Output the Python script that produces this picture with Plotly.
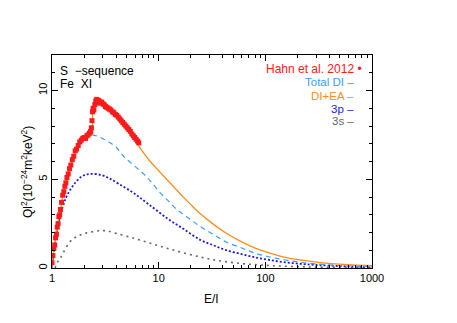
import plotly.graph_objects as go

# ---- data ----
hahn_x = [1.00, 1.02, 1.04, 1.06, 1.08, 1.10, 1.12, 1.14, 1.16, 1.18, 1.20, 1.23, 1.26, 1.29,
          1.32, 1.35, 1.38, 1.42, 1.46, 1.50, 1.55, 1.60, 1.65, 1.70, 1.76, 1.82, 1.88, 1.94,
          2.00, 2.06, 2.12, 2.18, 2.24, 2.30, 2.34, 2.37, 2.40, 2.43, 2.47, 2.52, 2.57, 2.62,
          2.67, 2.72, 2.78, 2.85, 2.92, 3.00, 3.08, 3.17, 3.26, 3.36, 3.46, 3.57, 3.68, 3.80,
          3.92, 4.05, 4.18, 4.32, 4.46, 4.61, 4.76, 4.92, 5.08, 5.25, 5.42, 5.60, 5.78, 5.96,
          6.15, 6.35, 6.50]
hahn_y = [0.3, 0.7, 1.1, 1.3, 1.7, 1.9, 2.3, 2.5, 2.9, 3.0, 3.3, 3.7, 4.1, 4.3,
          4.6, 4.8, 5.1, 5.3, 5.6, 5.8, 6.1, 6.3, 6.6, 6.7, 6.9, 7.1, 7.2, 7.3,
          7.35, 7.3, 7.45, 7.5, 7.6, 7.7, 7.9, 8.3, 8.8, 9.0, 8.9, 9.2, 9.4, 9.5,
          9.3, 9.45, 9.4, 9.3, 9.35, 9.25, 9.2, 9.1, 9.05, 9.0, 8.95, 8.9, 8.8, 8.75,
          8.65, 8.6, 8.5, 8.4, 8.3, 8.2, 8.1, 8.0, 7.9, 7.8, 7.7, 7.55, 7.45, 7.35,
          7.25, 7.15, 7.05]

di_x = [1.00, 1.03, 1.07, 1.10, 1.15, 1.20, 1.28, 1.33, 1.48, 1.65, 1.84, 2.05, 2.3, 2.6, 2.84,
        3.4, 4.0, 4.69, 5.8, 7.23, 8.5, 10.4, 12.5, 14.9, 19, 24.6, 32, 42, 60, 80.5, 110,
        154, 220, 300, 450, 650, 1000]
di_y = [0.0, 0.9, 1.5, 2.1, 2.7, 3.2, 4.3, 4.65, 5.65, 6.55, 7.1, 7.35, 7.5, 7.45, 7.36,
        7.1, 6.8, 6.29, 5.8, 5.3, 4.85, 4.22, 3.74, 3.28, 2.82, 2.33, 1.92, 1.49, 1.13, 0.83, 0.62,
        0.45, 0.31, 0.23, 0.16, 0.11, 0.08]

# DI+EA: identical to DI below the EA threshold, then the EA jump and decay
ea_low_x = [1.00, 1.03, 1.07, 1.10, 1.15, 1.20, 1.28, 1.33, 1.48, 1.65, 1.84, 2.05, 2.3, 2.4]
ea_low_y = [0.0, 0.9, 1.5, 2.1, 2.7, 3.2, 4.3, 4.65, 5.65, 6.55, 7.1, 7.35, 7.5, 7.5]
ea_high_x = [2.4, 2.5, 2.6, 2.8, 3.0, 3.3, 3.6, 4.06, 4.5, 5.04, 5.6, 6.25, 7.2, 8.34, 10, 12, 14.3,
             17.1, 20, 24.6, 32, 42, 60, 80.5, 110, 154, 220, 300, 450, 650, 1000]
ea_high_y = [9.0, 9.1, 9.2, 9.32, 9.34, 9.2, 8.95, 8.6, 8.25, 7.9, 7.5, 7.04, 6.5, 6.0, 5.48, 4.97, 4.48,
             3.98, 3.57, 3.05, 2.5, 2.0, 1.47, 1.12, 0.84, 0.6, 0.44, 0.33, 0.23, 0.17, 0.13]

p3_x = [1.00, 1.05, 1.10, 1.15, 1.24, 1.35, 1.48, 1.65, 1.84, 2.05, 2.28, 2.84, 3.39, 4.2, 5.83,
        8, 12, 17, 24.6, 32, 42, 60, 80.5, 110, 154, 220, 300, 450, 650, 1000]
p3_y = [0.0, 1.1, 1.9, 2.5, 3.3, 3.95, 4.4, 4.8, 5.1, 5.25, 5.3, 5.25, 5.07, 4.75, 4.22,
        3.6, 2.8, 2.21, 1.58, 1.3, 1.02, 0.78, 0.6, 0.45, 0.32, 0.23, 0.17, 0.12, 0.08, 0.06]

s3_x = [1.07, 1.12, 1.196, 1.3, 1.48, 1.65, 1.84, 2.1, 2.45, 2.84, 3.27, 4.0, 5.83, 8.34, 12,
        17, 24.6, 32, 42, 60, 80.5, 110, 154, 220, 300, 450, 650, 1000]
s3_y = [0.0, 0.3, 0.55, 0.95, 1.49, 1.72, 1.86, 1.98, 2.05, 2.1, 2.09, 1.95, 1.68, 1.4, 1.11,
        0.86, 0.62, 0.47, 0.36, 0.25, 0.19, 0.14, 0.1, 0.07, 0.05, 0.04, 0.03, 0.02]

x_tickvals = [1, 10, 100, 1000]
x_ticktext = ["1", "10", "100", "1000"]
x_minor = [2, 3, 4, 5, 6, 7, 8, 9, 20, 30, 40, 50, 60, 70, 80, 90,
           200, 300, 400, 500, 600, 700, 800, 900]
y_tickvals = [0, 5, 10]

RED = "#ff1a1a"
LBLUE = "#3d9cff"
ORANGE = "#ff8c1a"
BLUE = "#1a1aee"
GRAY = "#666666"

fig = go.Figure()
fig.add_trace(go.Scatter(x=s3_x, y=s3_y, mode="lines", line=dict(color=GRAY, width=1.6, dash="2px,4px"),
                         line_shape="spline"))
fig.add_trace(go.Scatter(x=p3_x, y=p3_y, mode="lines", line=dict(color=BLUE, width=1.8, dash="2px,2px"),
                         line_shape="spline"))
fig.add_trace(go.Scatter(x=di_x, y=di_y, mode="lines", line=dict(color=LBLUE, width=1.2, dash="5px,4px"),
                         line_shape="spline"))
fig.add_trace(go.Scatter(x=ea_low_x, y=ea_low_y, mode="lines", line=dict(color=ORANGE, width=1.3),
                         line_shape="spline"))
fig.add_trace(go.Scatter(x=[ea_low_x[-1], ea_high_x[0]], y=[ea_low_y[-1], ea_high_y[0]], mode="lines",
                         line=dict(color=ORANGE, width=1.3)))
fig.add_trace(go.Scatter(x=ea_high_x, y=ea_high_y, mode="lines", line=dict(color=ORANGE, width=1.3),
                         line_shape="spline"))
fig.add_trace(go.Scatter(x=hahn_x, y=hahn_y, mode="markers",
                         marker=dict(color=RED, size=5, symbol="square")))

FONT = "Liberation Sans, Arial, Helvetica, sans-serif"
axis_common = dict(showline=True, linecolor="black", linewidth=1, mirror="allticks",
                   ticks="inside", tickcolor="black", ticklen=6, showgrid=False, zeroline=False,
                   automargin=False,
                   tickfont=dict(size=11, color="black", family=FONT))

# the page body adds an 8 px offset, so margins are shifted to land the frame
# at x 52..372, y 55..268 in the browser window
fig.update_layout(
    width=457, height=323,
    margin=dict(l=44, r=93, t=47, b=63),
    paper_bgcolor="white", plot_bgcolor="white",
    showlegend=False,
    font=dict(family=FONT, color="black", size=11),
    xaxis=dict(type="log", range=[0, 3], tickmode="array", tickvals=x_tickvals, ticktext=x_ticktext,
               minor=dict(tickmode="array", tickvals=x_minor, ticks="inside", ticklen=3,
                          tickcolor="black", showgrid=False),
               **axis_common),
    yaxis=dict(range=[0, 12], tickmode="array", tickvals=y_tickvals, tickangle=-90,
               minor=dict(dtick=1, ticks="inside", ticklen=3, tickcolor="black", showgrid=False),
               **axis_common),
)

def px2paper(px, py):
    return (px - 52) / 320.0, (268 - py) / 213.0

anns = [
    ("S  \u2212sequence", 58, 70.7, "left", "black", 12),
    ("Fe  XI", 58, 83.5, "left", "black", 12),
    ("Hahn et al. 2012 \u2022", 364, 69.3, "right", RED, 12),
    ("Total DI \u2013", 356, 82.3, "right", LBLUE, 11.5),
    ("DI+EA \u2013", 356, 95.7, "right", ORANGE, 11.5),
    ("3p \u2013", 356, 108.7, "right", BLUE, 11.5),
    ("3s \u2013", 356, 121.5, "right", GRAY, 11.5),
]
for text, px, py, anchor, col, sz in anns:
    xf, yf = px2paper(px, py)
    fig.add_annotation(x=xf, y=yf, xref="paper", yref="paper", text=text, showarrow=False,
                       xanchor=anchor, yanchor="middle", font=dict(size=sz, color=col, family=FONT))

xf, yf = px2paper(211, 299)
fig.add_annotation(x=xf, y=yf, xref="paper", yref="paper", text="E/I", showarrow=False,
                   xanchor="center", yanchor="middle", font=dict(size=12, color="black", family=FONT))
xf, yf = px2paper(27, 172)
fig.add_annotation(x=xf, y=yf, xref="paper", yref="paper",
                   text="Ql<sup>2</sup>(10<sup>\u221224</sup>m<sup>2</sup>keV<sup>2</sup>)",
                   showarrow=False, textangle=-90, xanchor="center", yanchor="middle",
                   font=dict(size=12, color="black", family=FONT))

fig.write_html("out.html")
